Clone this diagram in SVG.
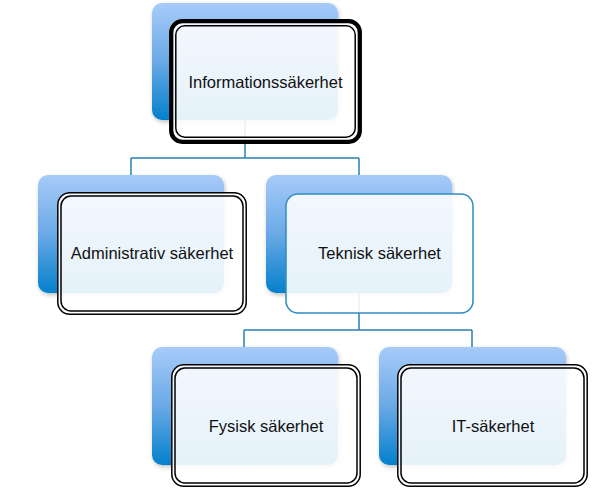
<svg xmlns="http://www.w3.org/2000/svg" width="594" height="496" viewBox="0 0 594 496">
<defs>
<linearGradient id="bg" x1="0" y1="0" x2="0" y2="1">
<stop offset="0" stop-color="#a7cbf9"/>
<stop offset="0.5" stop-color="#6aa9e6"/>
<stop offset="1" stop-color="#0480cc"/>
</linearGradient>
<linearGradient id="fg" x1="0" y1="0" x2="0" y2="1">
<stop offset="0" stop-color="#ffffff" stop-opacity="0.88"/>
<stop offset="1" stop-color="#ffffff" stop-opacity="0.9"/>
</linearGradient>
<filter id="sh" x="-10%" y="-10%" width="130%" height="130%">
<feGaussianBlur in="SourceAlpha" stdDeviation="2"/>
<feOffset dx="1" dy="2"/>
<feComponentTransfer><feFuncA type="linear" slope="0.25"/></feComponentTransfer>
<feMerge><feMergeNode/><feMergeNode in="SourceGraphic"/></feMerge>
</filter>
</defs>
<style>
.back{fill:url(#bg);filter:url(#sh)}
.front{fill:url(#fg)}
.dbl{fill:none;stroke:#000;stroke-width:1.5}
.lbl{font-family:"Liberation Sans",Arial,sans-serif;font-size:16.5px;fill:#111;text-anchor:middle}
.conn{fill:none;stroke:#2b80b3;stroke-width:1.5}
</style>
<g id="connectors">
<path class="conn" d="M245,120 V158 M131,158 H359 M131,158 V175 M359,158 V175"/>
<path class="conn" d="M359,293 V330 M244,330 H472 M244,330 V347 M472,330 V347"/>
</g>
<g id="n-info">
<rect class="back" x="152" y="3" width="186" height="117" rx="10"/>
<rect class="front" x="169" y="19" width="193" height="125" rx="13"/>
<rect x="171.2" y="21.2" width="188.6" height="120.6" rx="11" fill="none" stroke="#000" stroke-width="4.3"/>
<rect x="175.8" y="25.8" width="179.4" height="111.4" rx="9" fill="none" stroke="#000" stroke-width="1.5"/>
<text class="lbl" x="265.5" y="88">Informationssäkerhet</text>
</g>
<g id="n-admin">
<rect class="back" x="38" y="175" width="186" height="118" rx="10"/>
<rect class="front" x="57" y="192" width="190" height="123" rx="13"/>
<rect class="dbl" x="57.8" y="192.8" width="188.4" height="121.4" rx="12"/>
<rect class="dbl" x="61" y="196" width="182" height="115" rx="10"/>
<text class="lbl" x="152" y="259">Administrativ säkerhet</text>
</g>
<g id="n-tek">
<rect class="back" x="266" y="175" width="186" height="118" rx="10"/>
<rect class="front" x="286" y="194" width="187" height="119" rx="12" stroke="#2f8cc4" stroke-width="1.5"/>
<text class="lbl" x="379.5" y="259">Teknisk säkerhet</text>
</g>
<g id="n-fys">
<rect class="back" x="152" y="347" width="186" height="118" rx="10"/>
<rect class="front" x="171" y="364" width="190" height="123" rx="13"/>
<rect class="dbl" x="171.8" y="364.8" width="188.4" height="121.4" rx="12"/>
<rect class="dbl" x="175" y="368" width="182" height="115" rx="10"/>
<text class="lbl" x="266" y="432">Fysisk säkerhet</text>
</g>
<g id="n-it">
<rect class="back" x="379" y="347" width="187" height="118" rx="10"/>
<rect class="front" x="397" y="364" width="191" height="123" rx="13"/>
<rect class="dbl" x="397.8" y="364.8" width="189.4" height="121.4" rx="12"/>
<rect class="dbl" x="401" y="368" width="183" height="115" rx="10"/>
<text class="lbl" x="493" y="432">IT-säkerhet</text>
</g>
</svg>
